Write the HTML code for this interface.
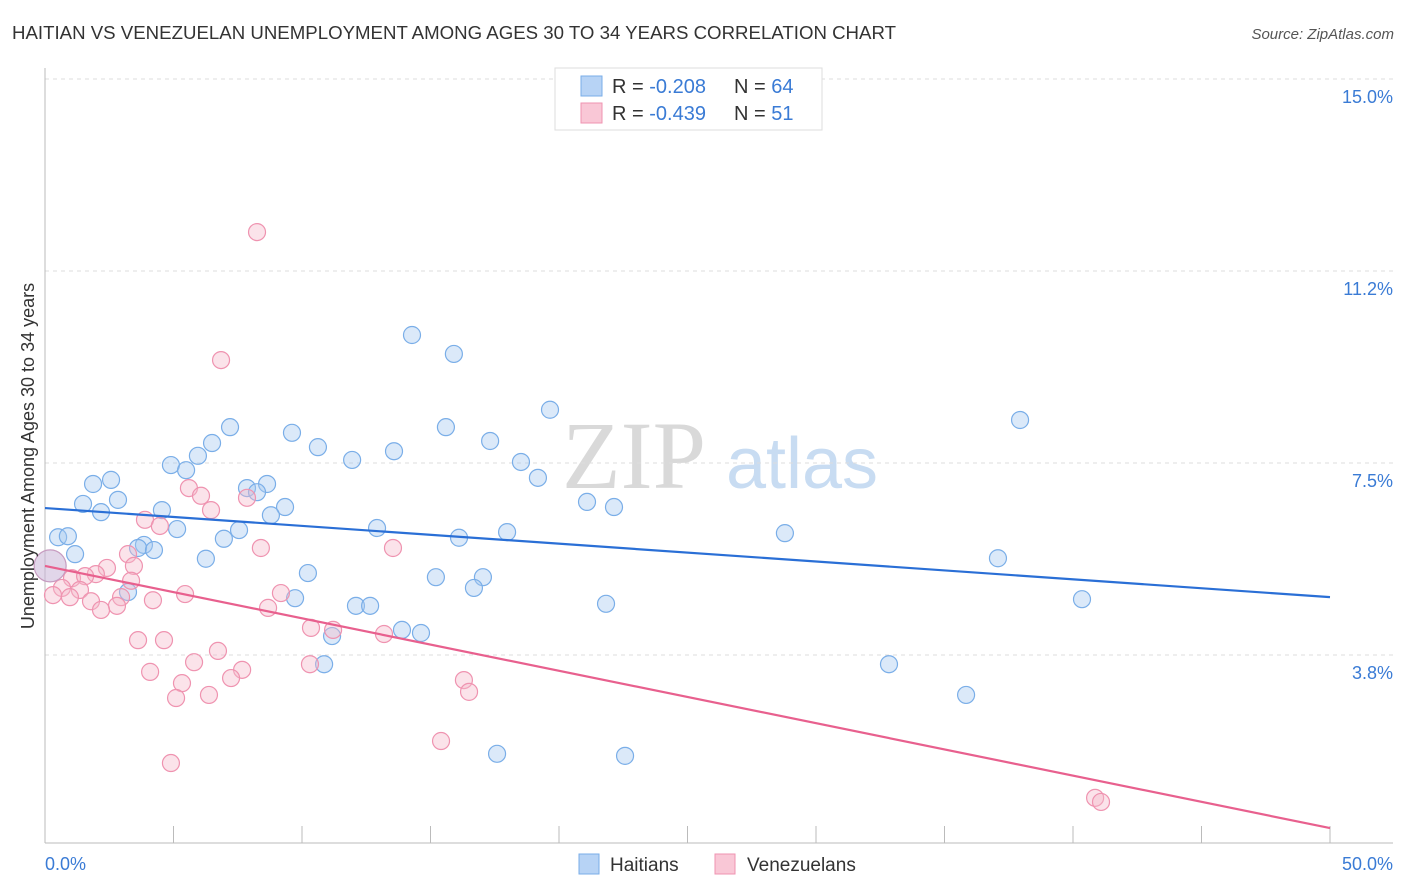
<!DOCTYPE html>
<html><head><meta charset="utf-8"><style>
body{margin:0;background:#fff;font-family:"Liberation Sans",sans-serif;}
svg{display:block}
</style></head><body>
<svg id="chart" width="1406" height="892" xmlns="http://www.w3.org/2000/svg">
<text x="12" y="39" font-size="18" fill="#333" font-family="Liberation Sans, sans-serif" textLength="884" lengthAdjust="spacingAndGlyphs">HAITIAN VS VENEZUELAN UNEMPLOYMENT AMONG AGES 30 TO 34 YEARS CORRELATION CHART</text>
<text x="1394" y="39" font-size="15" fill="#555" font-style="italic" text-anchor="end">Source: ZipAtlas.com</text>
<g>
<text x="634" y="488" font-size="96" fill="#d9d9d9" font-family="Liberation Serif, serif" text-anchor="middle">ZIP</text>
<text x="802" y="488" font-size="72" fill="#c8dcf2" text-anchor="middle">atlas</text>
</g>
<g id="grid"></g>
<g id="axes"></g>
<g id="pts"></g>
<g id="lines"></g>
<text transform="translate(34,456) rotate(-90)" font-size="18" fill="#333" text-anchor="middle">Unemployment Among Ages 30 to 34 years</text>
<g>
<rect x="555" y="68" width="267" height="62" fill="#fff" stroke="#ddd"/>
<rect x="581" y="76" width="21" height="20" fill="#b7d3f5" stroke="#7aaee8"/>
<text x="612" y="93" font-size="20" fill="#333">R = <tspan fill="#3a7bd5">-0.208</tspan></text>
<text x="734" y="93" font-size="20" fill="#333">N = <tspan fill="#3a7bd5">64</tspan></text>
<rect x="581" y="103" width="21" height="20" fill="#f9c7d6" stroke="#ef93b0"/>
<text x="612" y="120" font-size="20" fill="#333">R = <tspan fill="#3a7bd5">-0.439</tspan></text>
<text x="734" y="120" font-size="20" fill="#333">N = <tspan fill="#3a7bd5"> 51</tspan></text>
</g>
<g>
<rect x="579" y="854" width="20" height="20" fill="#b7d3f5" stroke="#7aaee8"/>
<text x="610" y="871" font-size="19" fill="#333">Haitians</text>
<rect x="715" y="854" width="20" height="20" fill="#f9c7d6" stroke="#ef93b0"/>
<text x="747" y="871" font-size="19" fill="#333">Venezuelans</text>
</g>
</svg>
<script>
const xTickLabels=["0.0%","50.0%"];
const yTicks=[3.75,7.5,11.25,15];
const yTickLabels=["3.8%","7.5%","11.2%","15.0%"];
const haitiX=[14.28,15.91,19.65,37.94,15.60,7.20,9.61,6.50,17.32,10.62,13.58,5.95,11.95,18.52,4.90,5.49,19.18,2.57,1.87,8.64,7.86,8.25,2.84,1.48,21.09,22.14,9.34,2.18,4.55,8.79,5.14,12.92,7.55,17.98,28.79,0.51,0.89,6.96,16.11,3.85,3.62,4.24,1.17,6.26,37.08,10.23,15.21,17.04,16.69,3.23,9.73,40.35,21.83,12.10,12.65,13.89,14.63,11.17,32.84,10.86,35.84,17.59,22.57];
const haitiY=[10.0,9.63,8.54,8.34,8.20,8.20,8.09,7.89,7.93,7.81,7.73,7.64,7.56,7.52,7.46,7.36,7.21,7.17,7.09,7.09,7.01,6.93,6.78,6.70,6.74,6.64,6.64,6.54,6.58,6.48,6.21,6.23,6.19,6.15,6.13,6.05,6.07,6.02,6.04,5.90,5.84,5.80,5.72,5.63,5.64,5.35,5.27,5.27,5.06,4.98,4.86,4.84,4.75,4.71,4.71,4.24,4.18,4.12,3.57,3.57,2.97,1.82,1.78];
const venX=[8.25,6.85,5.60,6.07,6.46,7.86,3.89,4.47,8.40,13.54,3.23,2.41,3.46,1.98,1.05,1.56,3.35,0.66,1.36,0.31,0.97,2.96,4.20,5.45,1.79,2.80,9.18,2.18,8.68,10.35,11.21,13.19,3.62,4.63,6.73,5.80,7.67,4.09,10.31,5.33,7.24,16.30,5.10,6.38,16.50,15.41,4.90,40.86,41.09];
const venY=[12.01,9.51,7.01,6.86,6.58,6.82,6.39,6.27,5.84,5.84,5.72,5.45,5.49,5.33,5.25,5.29,5.20,5.06,5.02,4.92,4.88,4.88,4.82,4.94,4.80,4.71,4.96,4.63,4.67,4.28,4.24,4.16,4.04,4.04,3.83,3.61,3.46,3.42,3.57,3.20,3.30,3.26,2.91,2.97,3.03,2.07,1.64,0.96,0.88];
const bigPoint=[0.2,5.49];
const haitiTrend=[6.62,4.88];
const venTrend=[5.49,0.37];
const X0=45,X1=1330,Y0=847,PX=51.2;
const xs=v=>X0+(X1-X0)*v/50;
const ys=v=>Y0-PX*v;
const NS="http://www.w3.org/2000/svg";
function mk(tag,attrs,parent){const e=document.createElementNS(NS,tag);for(const k in attrs)e.setAttribute(k,attrs[k]);parent.appendChild(e);return e;}
const grid=document.getElementById('grid'),axes=document.getElementById('axes'),pts=document.getElementById('pts'),lines=document.getElementById('lines');
yTicks.forEach((t,i)=>{
 const l=mk('line',{x1:45,x2:1393,y1:ys(t),y2:ys(t),stroke:'#ddd','stroke-dasharray':'4,4'},grid);
 
 
 const tx=mk('text',{x:1393,y:ys(t)+24,'font-size':18,fill:'#3a7bd5','text-anchor':'end'},axes);
 tx.textContent=yTickLabels[i];
 
 
});
const ax=mk('line',{x1:45,x2:1393,y1:843,y2:843,stroke:'#bbb'},axes);


const ay=mk('line',{x1:45,x2:45,y1:68,y2:843,stroke:'#bbb'},axes);


for(let i=0;i<=10;i++){
 const t=mk('line',{x1:xs(i*5),x2:xs(i*5),y1:826,y2:843,stroke:'#bbb'},axes);
 
 
}
const xl0=mk('text',{x:45,y:870,'font-size':18,fill:'#3a7bd5'},axes);xl0.textContent=xTickLabels[0];


const xl1=mk('text',{x:1393,y:870,'font-size':18,fill:'#3a7bd5','text-anchor':'end'},axes);xl1.textContent=xTickLabels[1];


haitiX.forEach((v,i)=>{
 const c=mk('circle',{cx:xs(v),cy:ys(haitiY[i]),r:8.5,fill:'rgba(164,200,240,0.4)',stroke:'#7aaee8','stroke-width':1.2},pts);
 
 
});
venX.forEach((v,i)=>{
 const c=mk('circle',{cx:xs(v),cy:ys(venY[i]),r:8.5,fill:'rgba(245,184,203,0.4)',stroke:'#ef93b0','stroke-width':1.2},pts);
 
 
});
const bp=mk('circle',{cx:xs(bigPoint[0]),cy:ys(bigPoint[1]),r:16,fill:'rgba(200,180,215,0.55)',stroke:'#c79bc0','stroke-width':1.2},pts);


const hl=mk('line',{x1:xs(0),y1:ys(haitiTrend[0]),x2:xs(50),y2:ys(haitiTrend[1]),stroke:'#2a6fd6','stroke-width':2.2},lines);


const vl=mk('line',{x1:xs(0),y1:ys(venTrend[0]),x2:xs(50),y2:ys(venTrend[1]),stroke:'#e8608e','stroke-width':2.2},lines);


</script>
</body></html>
